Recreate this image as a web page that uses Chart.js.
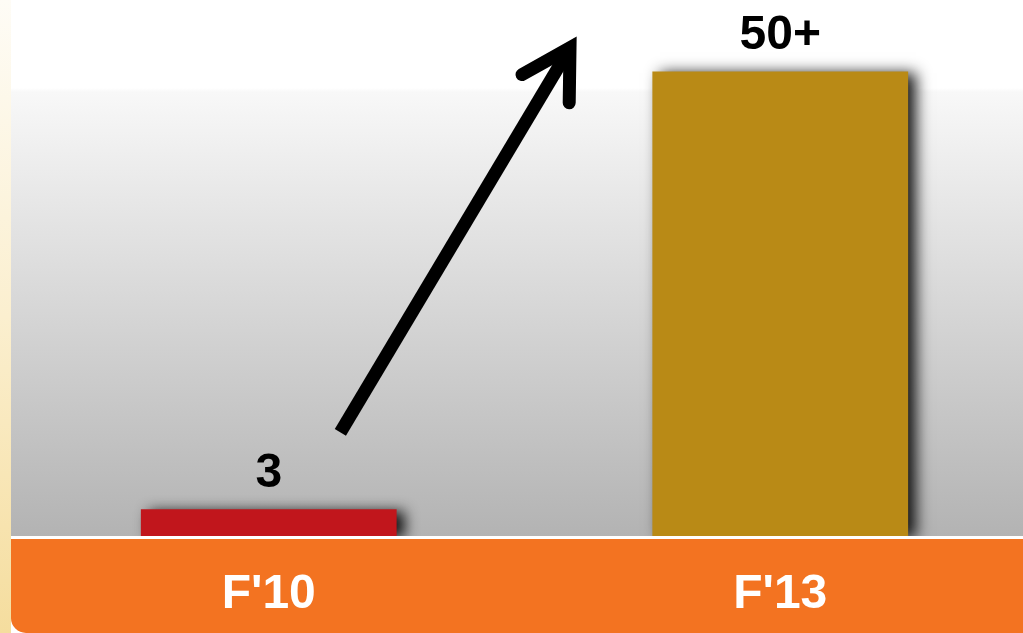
<!DOCTYPE html>
<html lang="en">
<head>
<meta charset="UTF-8">
<title>F'10 vs F'13</title>
<script src="https://cdn.jsdelivr.net/npm/chart.js"></script>
<style>
    html, body {
        margin: 0;
        padding: 0;
        overflow: hidden;
        background: #ffffff;
    }
    #wrap {
        width: 1036px;
        height: 633px;
    }
</style>
</head>
<body>
<div id="wrap"><canvas id="growthChart"></canvas></div>
<script>
    const periods = ["F'10", "F'13"];
    const counts = [3, 52];
    const countLabels = ['3', '50+'];
    const barColors = ['#c1161c', '#b98a16'];
    const yMax = 60;
    // arrow ends, in axis units (category index, value)
    const arrowFrom = { x: 0.14, y: 11.6 };
    const arrowTo = { x: 0.603, y: 56.0 };

    const FONT = '"Liberation Sans", Arial, sans-serif';

    // gray backdrop, beige strip on the left and the orange band under the bars
    const backdrop = {
        id: 'backdrop',
        beforeDraw(chart) {
            const { ctx, chartArea, width, height } = chart;
            const b = chartArea.bottom;
            ctx.save();
            ctx.fillStyle = '#ffffff';
            ctx.fillRect(0, 0, width, height);

            const strip = ctx.createLinearGradient(0, 0, 0, height);
            strip.addColorStop(0, '#fefcf6');
            strip.addColorStop(0.5, '#fbefcf');
            strip.addColorStop(1, '#f5dd9e');
            ctx.fillStyle = strip;
            ctx.fillRect(0, 0, 11, height);

            const g = ctx.createLinearGradient(0, 0, 0, b);
            g.addColorStop(0, '#ffffff');
            g.addColorStop(88 / b, '#ffffff');
            g.addColorStop(92 / b, '#f8f8f8');
            g.addColorStop(1, '#b3b3b3');
            ctx.fillStyle = g;
            ctx.fillRect(11, 0, width - 11, b);

            ctx.fillStyle = '#f37321';
            ctx.beginPath();
            ctx.moveTo(11, b + 3);
            ctx.lineTo(width, b + 3);
            ctx.lineTo(width, height);
            ctx.lineTo(26, height);
            ctx.arcTo(11, height, 11, height - 15, 15);
            ctx.closePath();
            ctx.fill();
            ctx.restore();
        }
    };

    const barShadow = {
        id: 'barShadow',
        beforeDatasetsDraw(chart) {
            const ctx = chart.ctx;
            ctx.save();
            ctx.shadowColor = 'rgba(0,0,0,0.9)';
            ctx.shadowBlur = 14;
            ctx.shadowOffsetX = 8;
            ctx.shadowOffsetY = 2;
        },
        afterDatasetsDraw(chart) {
            const ctx = chart.ctx;
            ctx.restore();
            const meta = chart.getDatasetMeta(0);
            ctx.save();
            ctx.fillStyle = '#000000';
            ctx.font = 'bold 48px ' + FONT;
            ctx.textAlign = 'center';
            ctx.textBaseline = 'alphabetic';
            meta.data.forEach((bar, i) => {
                ctx.fillText(countLabels[i], bar.x, bar.y - 22);
            });
            ctx.restore();
        }
    };

    const growthArrow = {
        id: 'growthArrow',
        afterDraw(chart) {
            const { ctx, scales } = chart;
            const x0 = scales.x.getPixelForValue(arrowFrom.x);
            const y0 = scales.y.getPixelForValue(arrowFrom.y);
            const x1 = scales.x.getPixelForValue(arrowTo.x);
            const y1 = scales.y.getPixelForValue(arrowTo.y);
            const ang = Math.atan2(y1 - y0, x1 - x0);
            // the miter point sticks out past the join, pull the join back a bit
            const vx = x1 - 14 * Math.cos(ang);
            const vy = y1 - 14 * Math.sin(ang);
            const spread = 30 * Math.PI / 180;
            const len = 55;
            ctx.save();
            ctx.strokeStyle = '#000000';
            ctx.lineWidth = 13;
            ctx.lineCap = 'butt';
            ctx.beginPath();
            ctx.moveTo(x0, y0);
            ctx.lineTo(vx, vy);
            ctx.stroke();
            ctx.lineCap = 'round';
            ctx.lineJoin = 'miter';
            ctx.miterLimit = 10;
            ctx.beginPath();
            ctx.moveTo(vx - len * Math.cos(ang - spread), vy - len * Math.sin(ang - spread));
            ctx.lineTo(vx, vy);
            ctx.lineTo(vx - len * Math.cos(ang + spread), vy - len * Math.sin(ang + spread));
            ctx.stroke();
            ctx.restore();
        }
    };

    const ctx = document.getElementById('growthChart').getContext('2d');

    new Chart(ctx, {
        type: 'bar',
        data: {
            labels: periods,
            datasets: [{
                data: counts,
                backgroundColor: barColors,
                borderWidth: 0,
                barPercentage: 0.5,
                categoryPercentage: 1
            }]
        },
        options: {
            responsive: true,
            maintainAspectRatio: false,
            animation: false,
            devicePixelRatio: 1,
            layout: {
                padding: { left: 13, right: 0, top: 0, bottom: 0 }
            },
            scales: {
                x: {
                    position: 'bottom',
                    grid: { display: false, drawTicks: false },
                    border: { display: false },
                    ticks: {
                        color: '#ffffff',
                        padding: 30,
                        font: { family: FONT, size: 48, weight: 'bold' }
                    },
                    afterFit(scale) {
                        scale.height = 97;
                    }
                },
                y: {
                    display: false,
                    min: 0,
                    max: yMax
                }
            },
            plugins: {
                legend: { display: false },
                tooltip: { enabled: false }
            }
        },
        plugins: [backdrop, barShadow, growthArrow]
    });
</script>
</body>
</html>
